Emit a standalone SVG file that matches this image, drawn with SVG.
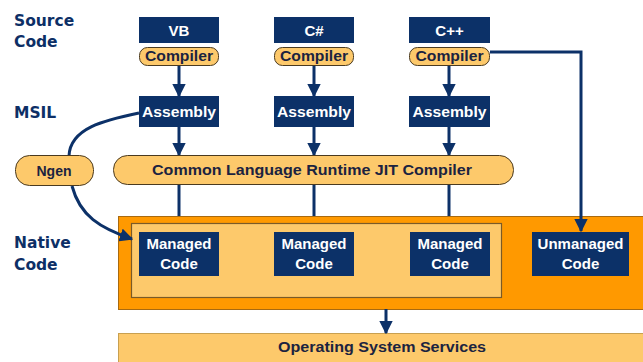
<svg xmlns="http://www.w3.org/2000/svg" width="643" height="362" viewBox="0 0 643 362">
<defs>
<style>
.lbl{font-family:"DejaVu Sans","Liberation Sans",Arial,sans-serif;font-weight:bold;font-size:15.5px;fill:#0d2f66}
.box{fill:#0c3168}
.bt{font-family:"Liberation Sans",Arial,sans-serif;font-weight:bold;font-size:15px;fill:#ffffff;text-anchor:middle}
.pill{fill:#fdc96b;stroke:#4a3a20;stroke-width:1}
.pt{font-family:"Liberation Sans",Arial,sans-serif;font-weight:bold;font-size:14px;fill:#1b2340;text-anchor:middle}
.ln{fill:none;stroke:#0c3168;stroke-width:3}
</style>
<marker id="ah" viewBox="0 0 10 10" refX="9" refY="5" markerWidth="4.5" markerHeight="4.5" orient="auto" markerUnits="strokeWidth">
<path d="M0,0 L10,5 L0,10 z" fill="#0c3168"/>
</marker>
</defs>
<rect width="643" height="362" fill="#ffffff"/>

<g id="labels">
<text class="lbl" x="14" y="26">Source</text>
<text class="lbl" x="14" y="47">Code</text>
<text class="lbl" x="14" y="118">MSIL</text>
<text class="lbl" x="14" y="248">Native</text>
<text class="lbl" x="14" y="270">Code</text>
</g>

<g id="native">
<rect x="118.5" y="216.5" width="530" height="93" fill="#ff9900" stroke="#a86a10" stroke-width="1"/>
<rect x="131.5" y="223.5" width="370" height="74" fill="#fdc96b" stroke="#7a5a28" stroke-width="1.2"/>
</g>

<g id="os">
<rect x="118.5" y="333.5" width="530" height="40" fill="#fdc96b" stroke="#c8a050" stroke-width="1"/>
<text class="pt" x="382" y="352" font-size="15" textLength="208" lengthAdjust="spacingAndGlyphs">Operating System Services</text>
</g>

<g id="connectors">
<line class="ln" x1="179" y1="65" x2="179" y2="96" marker-end="url(#ah)"/>
<line class="ln" x1="314" y1="65" x2="314" y2="96" marker-end="url(#ah)"/>
<line class="ln" x1="449" y1="65" x2="449" y2="96" marker-end="url(#ah)"/>
<line class="ln" x1="179" y1="127" x2="179" y2="155" marker-end="url(#ah)"/>
<line class="ln" x1="314" y1="127" x2="314" y2="155" marker-end="url(#ah)"/>
<line class="ln" x1="449" y1="127" x2="449" y2="155" marker-end="url(#ah)"/>
<line class="ln" x1="179" y1="184" x2="179" y2="216"/>
<line class="ln" x1="314" y1="184" x2="314" y2="216"/>
<line class="ln" x1="449" y1="184" x2="449" y2="216"/>
<polyline class="ln" points="490,52 581,52 581,231" marker-end="url(#ah)"/>
<line class="ln" x1="386" y1="309" x2="386" y2="333" marker-end="url(#ah)"/>
<path class="ln" d="M139,113 C105,120 70,128 69,156"/>
<path class="ln" d="M72,186 C80,216 100,228 132,239" marker-end="url(#ah)"/>
</g>

<g id="vb">
<rect class="box" x="139" y="17" width="80" height="26"/>
<text class="bt" x="179" y="36">VB</text>
<rect class="pill" x="139.5" y="47.5" width="79" height="18" rx="8"/>
<text class="pt" x="179" y="61" textLength="68" lengthAdjust="spacingAndGlyphs">Compiler</text>
</g>
<g id="csharp">
<rect class="box" x="274" y="17" width="80" height="26"/>
<text class="bt" x="314" y="36">C#</text>
<rect class="pill" x="274.5" y="47.5" width="79" height="18" rx="8"/>
<text class="pt" x="314" y="61" textLength="68" lengthAdjust="spacingAndGlyphs">Compiler</text>
</g>
<g id="cpp">
<rect class="box" x="409" y="17" width="81" height="26"/>
<text class="bt" x="449.5" y="36">C++</text>
<rect class="pill" x="409.5" y="47.5" width="80" height="18" rx="8"/>
<text class="pt" x="449.5" y="61" textLength="68" lengthAdjust="spacingAndGlyphs">Compiler</text>
</g>

<g id="asm-vb">
<rect class="box" x="139" y="96" width="80" height="31"/>
<text class="bt" x="179" y="117" textLength="74" lengthAdjust="spacingAndGlyphs">Assembly</text>
</g>
<g id="asm-cs">
<rect class="box" x="274" y="96" width="80" height="31"/>
<text class="bt" x="314" y="117" textLength="74" lengthAdjust="spacingAndGlyphs">Assembly</text>
</g>
<g id="asm-cpp">
<rect class="box" x="409" y="96" width="81" height="31"/>
<text class="bt" x="449.5" y="117" textLength="74" lengthAdjust="spacingAndGlyphs">Assembly</text>
</g>

<g id="ngen">
<rect class="pill" x="15.5" y="155.5" width="78" height="30" rx="14"/>
<text class="pt" x="54" y="176" font-size="15">Ngen</text>
</g>
<g id="clr">
<rect class="pill" x="113.5" y="155.5" width="400" height="29" rx="14"/>
<text class="pt" x="312" y="175" font-size="15" textLength="320" lengthAdjust="spacingAndGlyphs">Common Language Runtime JIT Compiler</text>
</g>

<g id="mc1">
<rect class="box" x="139" y="232" width="80" height="44"/>
<text class="bt" x="179" y="249" font-size="16">Managed</text>
<text class="bt" x="179" y="269" font-size="16">Code</text>
</g>
<g id="mc2">
<rect class="box" x="274" y="232" width="80" height="44"/>
<text class="bt" x="314" y="249" font-size="16">Managed</text>
<text class="bt" x="314" y="269" font-size="16">Code</text>
</g>
<g id="mc3">
<rect class="box" x="410" y="232" width="80" height="44"/>
<text class="bt" x="450" y="249" font-size="16">Managed</text>
<text class="bt" x="450" y="269" font-size="16">Code</text>
</g>
<g id="umc">
<rect class="box" x="532" y="232" width="97" height="44"/>
<text class="bt" x="580.5" y="249" font-size="16">Unmanaged</text>
<text class="bt" x="580.5" y="269" font-size="16">Code</text>
</g>
</svg>
